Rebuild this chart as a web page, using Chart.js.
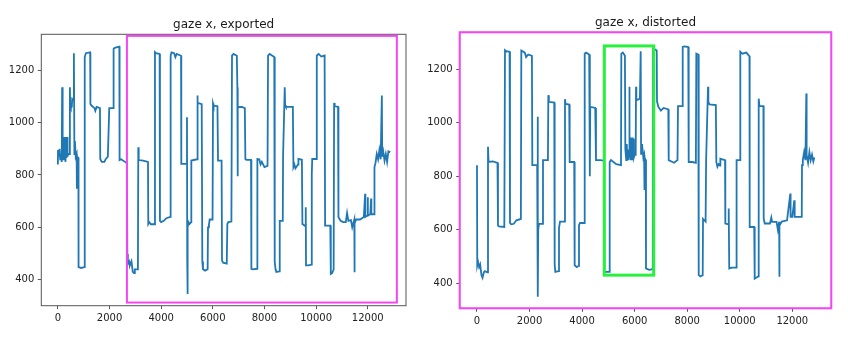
<!DOCTYPE html>
<html>
<head>
<meta charset="utf-8">
<script src="https://cdn.jsdelivr.net/npm/chart.js@4.4.1/dist/chart.umd.min.js"></script>
<style>
  html, body { margin: 0; padding: 0; background: #fff; }
  .panel { position: absolute; top: 0; width: 424px; height: 344px; }
</style>
</head>
<body>
<div class="panel" style="left:0"><canvas id="exported" width="424" height="344"></canvas></div>
<div class="panel" style="left:424px"><canvas id="distorted" width="424" height="344"></canvas></div>
<script>
// tick labels
const xTicks = [0, 2000, 4000, 6000, 8000, 10000, 12000];
const yTicks = [400, 600, 800, 1000, 1200];

// gaze x, exported (sample index / gaze x)
const exportedSample = [
  0, 5, 40, 65, 90, 120, 150, 165, 175, 195, 215, 235, 255, 275, 295, 315, 335, 355, 375, 395,
  455, 465, 480, 500, 540, 555, 600, 620, 640, 660, 690, 725, 736, 745, 795, 801, 900, 1030,
  1040, 1085, 1250, 1260, 1300, 1420, 1450, 1500, 1630, 1641, 1700, 1800, 1850, 1935, 1990, 2140,
  2158, 2200, 2380, 2390, 2450, 2600, 2674, 2690, 2710, 2760, 2790, 2850, 2900, 2950, 2980, 3100,
  3114, 3130, 3300, 3490, 3501, 3540, 3600, 3740, 3760, 3800, 3940, 3953, 4000, 4100, 4200, 4355,
  4367, 4400, 4500, 4550, 4600, 4770, 4780, 4980, 5000, 5010, 5020, 5030, 5060, 5100, 5160, 5168,
  5390, 5400, 5420, 5570, 5594, 5620, 5700, 5800, 5814, 5850, 5879, 5990, 6008, 6030, 6180, 6202,
  6340, 6357, 6400, 6540, 6563, 6600, 6720, 6744, 6800, 6930, 6951, 6960, 6970, 7120, 7240, 7261,
  7300, 7480, 7494, 7550, 7720, 7726, 7800, 7850, 7900, 8000, 8120, 8140, 8200, 8380, 8398, 8430,
  8460, 8580, 8592, 8710, 8721, 8786, 8800, 8830, 9100, 9122, 9160, 9200, 9300, 9316, 9450, 9470,
  9580, 9600, 9610, 9700, 9820, 9833, 9850, 10010, 10027, 10100, 10200, 10330, 10349, 10550, 10570,
  10620, 10680, 10698, 10720, 10850, 10866, 10950, 11050, 11150, 11200, 11250, 11350, 11400, 11480,
  11486, 11495, 11550, 11700, 11850, 11899, 11910, 11990, 12000, 12010, 12100, 12130, 12140, 12250,
  12261, 12300, 12350, 12400, 12450, 12500, 12547, 12560, 12600, 12650, 12700, 12750, 12800, 12869
];
const exportedGazeX = [
  840, 895, 870, 900, 860, 880, 850, 1135, 880, 940, 860, 945, 860, 945, 850, 945, 865, 945, 870, 880,
  880, 1135, 1060, 1055, 1060, 1090, 1085, 1265, 880, 930, 870, 880, 747, 870, 865, 448, 445, 448,
  1250, 1265, 1268, 1071, 1065, 1055, 1045, 1060, 1055, 861, 850, 850, 860, 870, 1055, 1055,
  1281, 1285, 1290, 857, 860, 850, 845, 498, 460, 470, 455, 470, 430, 425, 440, 440,
  906, 857, 855, 850, 613, 620, 612, 612, 1269, 1265, 1262, 625, 620, 625, 635, 640,
  1255, 1268, 1265, 1250, 1262, 1255, 842, 842, 1020, 470, 346, 600, 620, 613, 620, 855,
  860, 1103, 1075, 1070, 470, 440, 435, 440, 600, 610, 630, 630, 1073, 1065, 1062, 855,
  855, 473, 465, 462, 613, 620, 622, 1256, 1262, 1255, 1135, 795, 1059, 1060, 1055, 861,
  858, 858, 442, 440, 442, 861, 860, 840, 850, 830, 835, 1256, 1262, 1250, 468, 440,
  430, 432, 625, 625, 870, 1135, 1066, 1060, 1060, 830, 840, 825, 840, 861, 858, 613,
  605, 677, 455, 455, 458, 804, 861, 861, 1256, 1262, 1252, 1256, 607, 607, 422,
  425, 440, 1075, 1062, 1060, 639, 625, 620, 620, 655, 625, 628, 600, 630,
  429, 615, 630, 630, 640, 728, 640, 645, 715, 645, 650, 710, 650, 650,
  830, 845, 880, 860, 895, 860, 1103, 870, 890, 855, 880, 850, 890, 887
];

// gaze x, distorted (sample index / gaze x)
const distortedSample = [
  0, 10, 40, 80, 120, 170, 210, 260, 300, 400, 419, 440, 600, 780, 799, 830, 1040, 1066, 1100, 1240,
  1256, 1300, 1400, 1500, 1670, 1687, 1720, 1820, 1870, 1950, 2090, 2106, 2290, 2309, 2318, 2330,
  2360, 2490, 2512, 2700, 2715, 2735, 2940, 2956, 2980, 3100, 3121, 3160, 3330, 3349, 3370, 3510,
  3527, 3700, 3717, 3800, 3870, 3882, 3920, 4080, 4099, 4150, 4270, 4289, 4300, 4310, 4500, 4529,
  4700, 4830, 4846, 5040, 5050, 5100, 5300, 5480, 5493, 5550, 5630, 5645, 5680, 5700, 5720, 5740,
  5760, 5790, 5797, 5810, 5830, 5850, 5870, 5890, 5910, 5930, 5950, 5970, 6000, 6040, 6052, 6065,
  6100, 6200, 6230, 6245, 6280, 6330, 6360, 6369, 6380, 6425, 6432, 6550, 6690, 6699, 6750, 6840,
  6851, 6900, 7000, 7100, 7280, 7296, 7400, 7500, 7630, 7650, 7810, 7829, 7900, 8040, 8057, 8200,
  8330, 8347, 8420, 8438, 8500, 8590, 8602, 8700, 8720, 8792, 8805, 8850, 9090, 9109, 9150, 9200,
  9250, 9261, 9440, 9451, 9570, 9580, 9600, 9700, 9860, 9869, 9890, 10010, 10021, 10100, 10250,
  10370, 10378, 10550, 10569, 10620, 10710, 10721, 10750, 10900, 10911, 10950, 11150, 11201, 11230,
  11400, 11450, 11500, 11506, 11515, 11600, 11800, 11924, 11935, 12000, 12076, 12090, 12360, 12369,
  12400, 12450, 12500, 12533, 12545, 12600, 12650, 12700, 12750, 12800, 12838
];
const distortedGazeX = [
  841, 467, 480, 460, 470, 430, 420, 440, 445, 440, 910, 853, 855, 850, 617, 612, 610, 1271, 1268, 1265,
  625, 620, 622, 635, 640, 1270, 1268, 1262, 1245, 1255, 1250, 841, 841, 1022, 349, 600,
  622, 622, 860, 860, 1103, 1078, 1075, 470, 442, 445, 607, 630, 630, 1088, 1070, 1068,
  853, 853, 467, 460, 465, 617, 625, 625, 1258, 1262, 1255, 1134, 800, 1059, 1055, 860,
  860, 858, 442, 442, 853, 860, 845, 841, 1258, 1262, 1250, 903, 860, 920, 870, 900,
  860, 880, 1134, 880, 940, 860, 945, 860, 945, 860, 940, 870, 880, 880, 1134, 1090,
  1085, 1090, 1267, 880, 920, 870, 880, 748, 870, 860, 455, 450, 452, 1277, 1275, 1270,
  1080, 1060, 1045, 1055, 1050, 860, 855, 850, 860, 1062, 1062, 1283, 1285, 1283, 853, 853,
  850, 1258, 1255, 430, 425, 430, 640, 630, 860, 1134, 1078, 1068, 1066, 853, 835, 845,
  840, 865, 860, 623, 620, 679, 455, 458, 458, 804, 860, 860, 1265, 1258, 1262,
  1248, 610, 610, 417, 420, 425, 1090, 1062, 1062, 642, 623, 623, 645, 629,
  629, 600, 630, 424, 615, 630, 635, 735, 648, 648, 710, 648, 648, 841,
  860, 890, 860, 1109, 880, 850, 890, 860, 880, 855, 870
];

// highlight rectangles, in data units
const exportedBoxes = [
  { from: 2674, to: 13128, low: 313, high: 1331, color: 'rgb(245,70,245)', width: 2 }
];
const distortedBoxes = [
  { from: -658, to: 13484, low: 306, high: 1338, color: 'rgb(245,70,245)', width: 2 },
  { from: 4846, to: 6726, low: 430, high: 1287, color: 'rgb(40,240,60)', width: 3 }
];

const FONT = 'DejaVu Sans';

const framePlugin = {
  id: 'frame',
  afterDatasetsDraw(chart, args, opts) {
    const { ctx, chartArea: a, scales } = chart;
    ctx.save();
    ctx.strokeStyle = '#555';
    ctx.lineWidth = 1;
    ctx.strokeRect(a.left, a.top, a.right - a.left, a.bottom - a.top);
    opts.boxes.forEach(b => {
      const x0 = scales.x.getPixelForValue(b.from);
      const x1 = scales.x.getPixelForValue(b.to);
      const y0 = scales.y.getPixelForValue(b.high);
      const y1 = scales.y.getPixelForValue(b.low);
      ctx.strokeStyle = b.color;
      ctx.lineWidth = b.width;
      ctx.strokeRect(x0, y0, x1 - x0, y1 - y0);
    });
    ctx.fillStyle = '#1a1a1a';
    ctx.font = '12px "' + FONT + '"';
    ctx.textAlign = 'center';
    ctx.textBaseline = 'alphabetic';
    ctx.fillText(opts.title, (a.left + a.right) / 2, a.top - 6);
    ctx.restore();
  }
};

function axis(range, ticks, fit) {
  return {
    type: 'linear',
    min: range[0],
    max: range[1],
    afterBuildTicks: s => { s.ticks = ticks.map(v => ({ value: v })); },
    afterFit: fit,
    grid: { drawOnChartArea: false, drawTicks: true, tickLength: 3.5, tickColor: '#444', tickWidth: 0.9 },
    border: { display: false },
    ticks: {
      padding: 3.5,
      color: '#222',
      font: { family: FONT, size: 10 },
      autoSkip: false,
      maxRotation: 0,
      callback: v => String(v)
    }
  };
}

function drawPanel(canvasId, cfg) {
  const points = cfg.samples.map((t, i) => ({ x: t, y: cfg.values[i] }));
  const area = cfg.area;
  return new Chart(document.getElementById(canvasId), {
    type: 'line',
    data: {
      datasets: [{
        data: points,
        borderColor: '#1f77b4',
        borderWidth: 1.8,
        pointRadius: 0,
        tension: 0,
        fill: false
      }]
    },
    options: {
      responsive: false,
      animation: false,
      parsing: false,
      layout: { padding: { left: 0, top: area.top, right: 424 - area.right, bottom: 0 } },
      scales: {
        x: axis(cfg.xRange, xTicks, s => { s.height = 344 - area.bottom; }),
        y: axis(cfg.yRange, yTicks, s => { s.width = area.left; })
      },
      plugins: {
        legend: { display: false },
        tooltip: { enabled: false },
        frame: { title: cfg.title, boxes: cfg.boxes }
      }
    },
    plugins: [framePlugin]
  });
}

drawPanel('exported', {
  title: 'gaze x, exported',
  samples: exportedSample,
  values: exportedGazeX,
  xRange: [-642, 13482],
  yRange: [301, 1337],
  area: { left: 41.3, right: 406, top: 34.3, bottom: 305.7 },
  boxes: exportedBoxes
});

drawPanel('distorted', {
  title: 'gaze x, distorted',
  samples: distortedSample,
  values: distortedGazeX,
  xRange: [-658, 13484],
  yRange: [306, 1338],
  area: { left: 35.7, right: 407.3, top: 32.3, bottom: 308.3 },
  boxes: distortedBoxes
});
</script>
</body>
</html>
